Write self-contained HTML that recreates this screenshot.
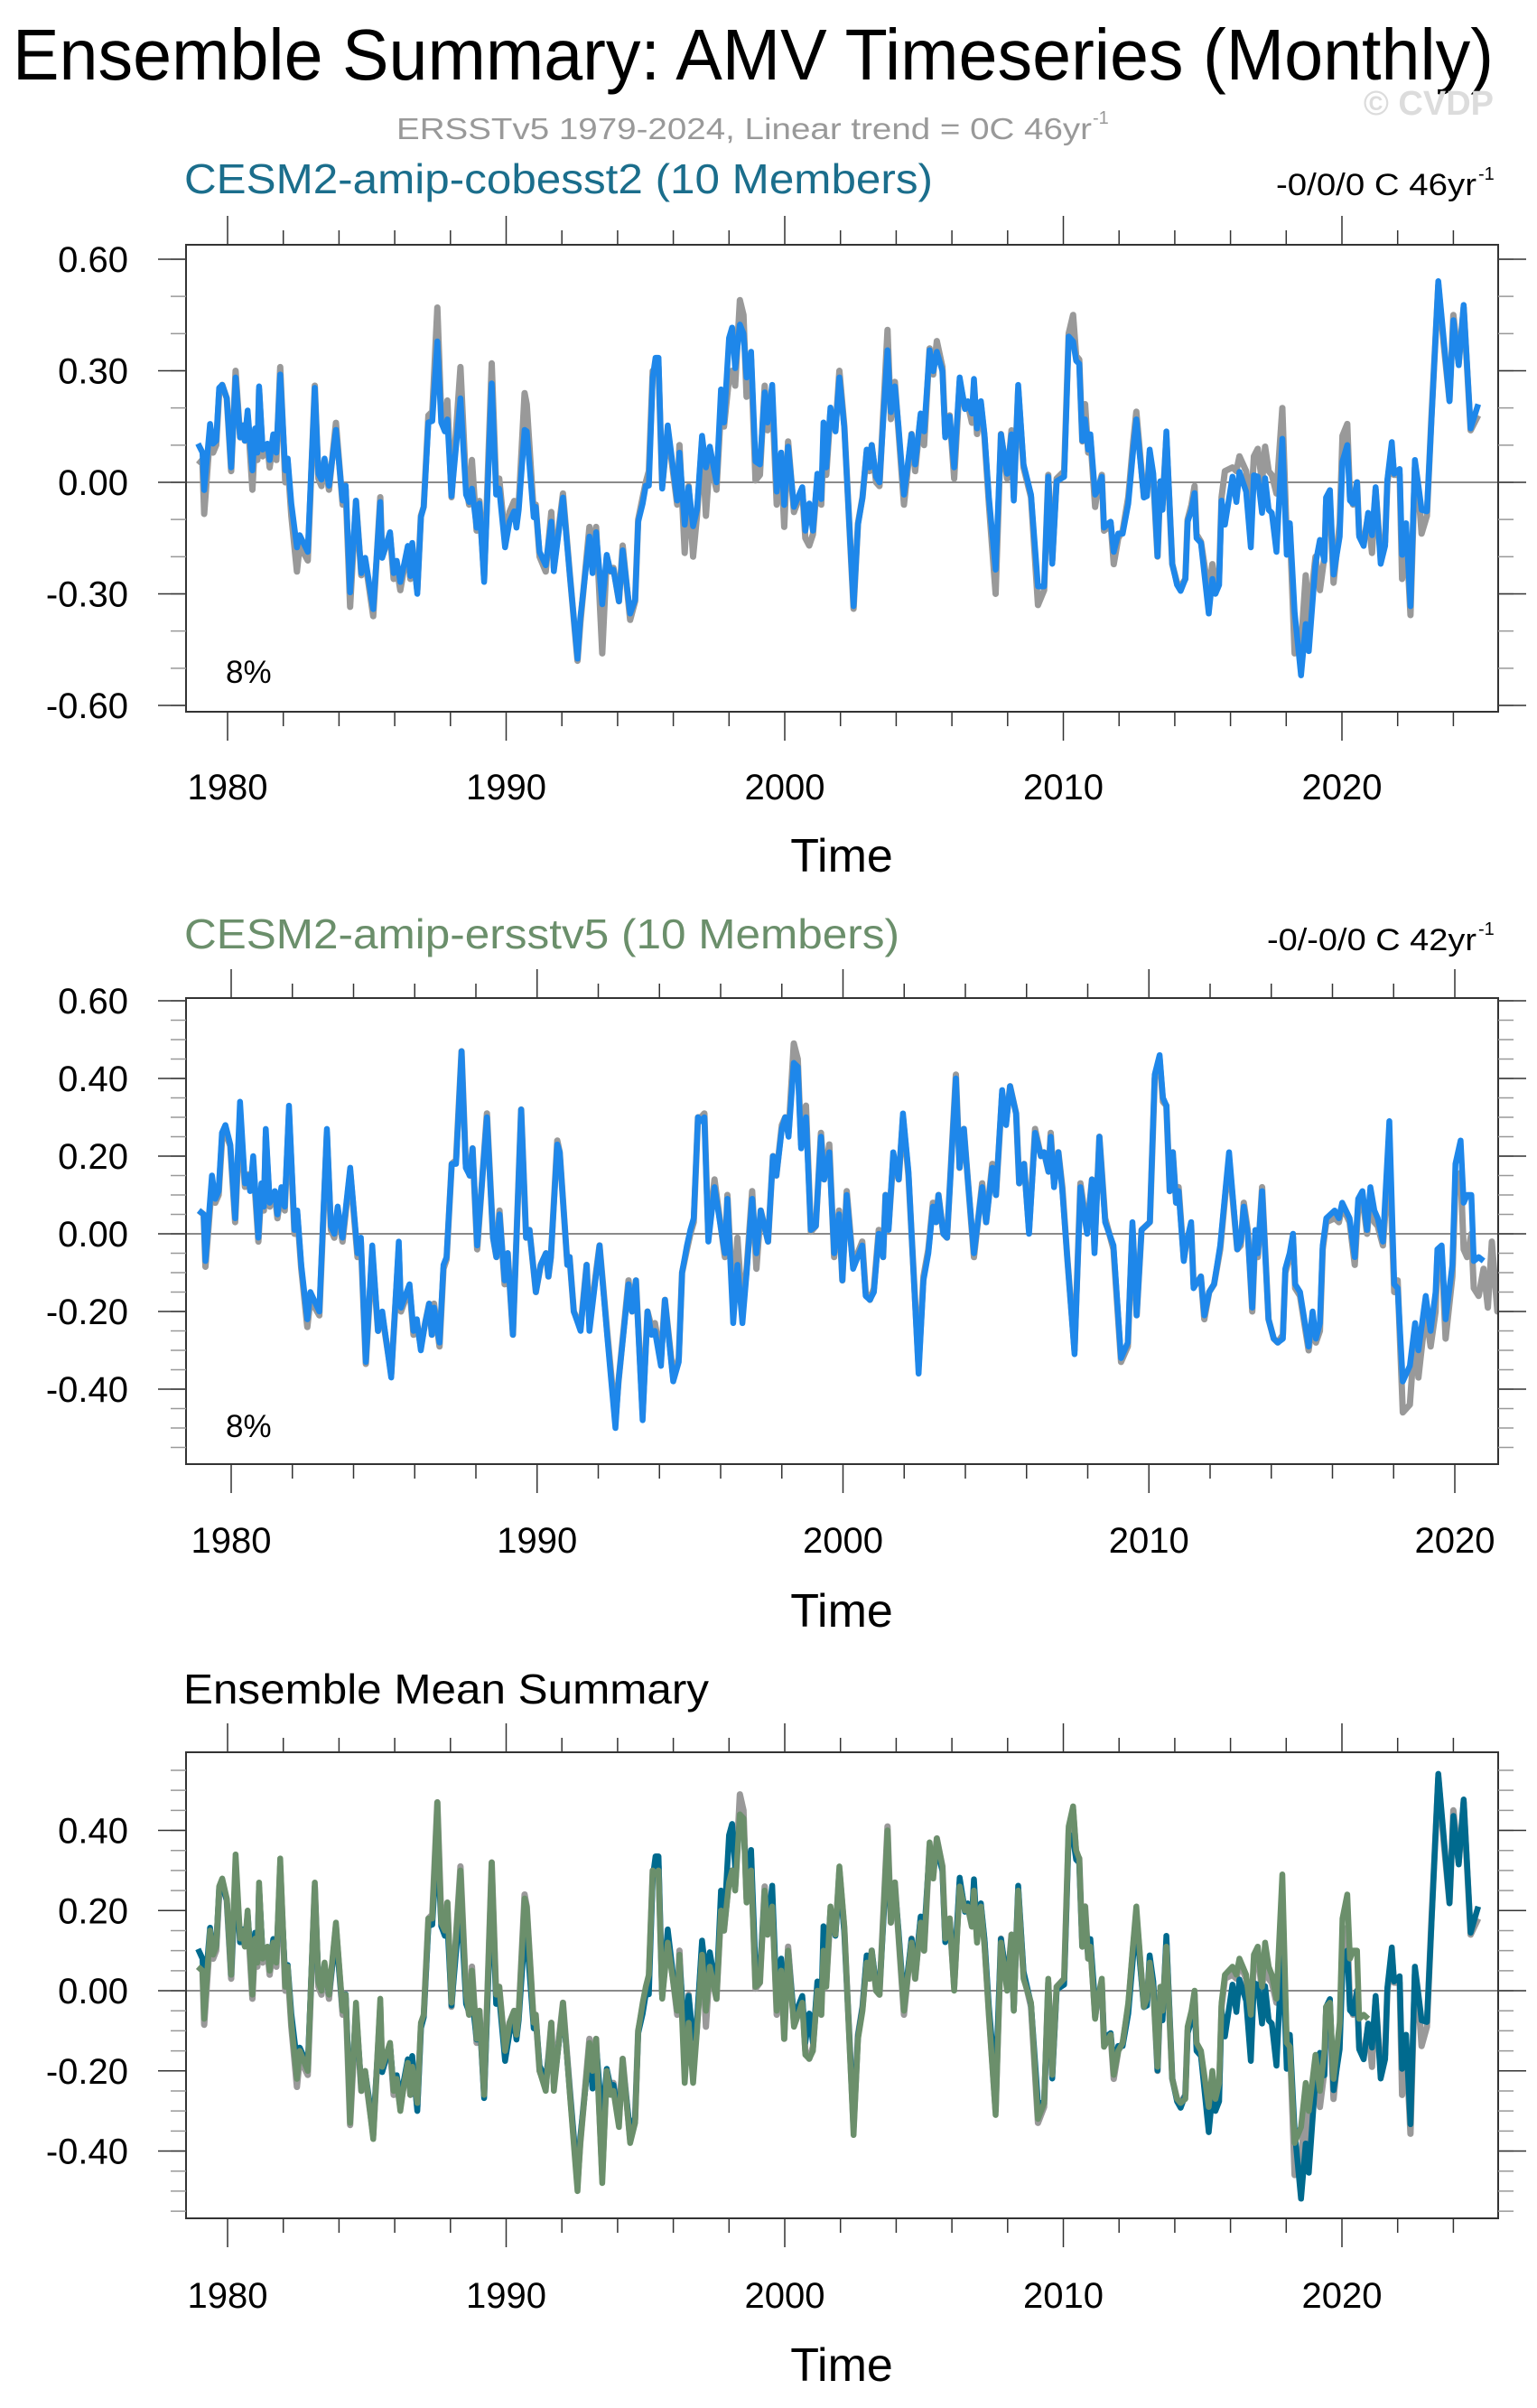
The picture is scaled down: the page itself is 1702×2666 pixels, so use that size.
<!DOCTYPE html>
<html><head><meta charset="utf-8"><title>AMV Timeseries</title>
<style>
html,body{margin:0;padding:0;background:#fff;}
svg{display:block;font-family:"Liberation Sans",sans-serif;}
</style></head>
<body>
<svg id="fig" width="1702" height="2666" viewBox="0 0 1702 2666" xmlns="http://www.w3.org/2000/svg">
<text x="14" y="88" font-size="80" textLength="1640" lengthAdjust="spacingAndGlyphs" fill="#000">Ensemble Summary: AMV Timeseries (Monthly)</text>
<text x="1654" y="127" font-size="38" font-weight="bold" text-anchor="end" fill="#dcdcdc">© CVDP</text>
<text x="439" y="154" font-size="33" textLength="770" lengthAdjust="spacingAndGlyphs" fill="#999">ERSSTv5 1979-2024, Linear trend = 0C 46yr</text>
<text x="1210" y="137" font-size="20" fill="#999">-1</text>

<text x="204" y="214" font-size="46" textLength="829" lengthAdjust="spacingAndGlyphs" fill="#1b6e8c">CESM2-amip-cobesst2 (10 Members)</text>
<text x="1413" y="216" font-size="34" textLength="222" lengthAdjust="spacingAndGlyphs" fill="#000">-0/0/0 C 46yr</text>
<text x="1637" y="199" font-size="20" fill="#000">-1</text>

<text x="204" y="1050" font-size="46" textLength="792" lengthAdjust="spacingAndGlyphs" fill="#6b8f6b">CESM2-amip-ersstv5 (10 Members)</text>
<text x="1403" y="1052" font-size="34" textLength="232" lengthAdjust="spacingAndGlyphs" fill="#000">-0/-0/0 C 42yr</text>
<text x="1637" y="1035" font-size="20" fill="#000">-1</text>

<text x="203" y="1886" font-size="46" textLength="582" lengthAdjust="spacingAndGlyphs" fill="#000">Ensemble Mean Summary</text>
</svg>
<script>
// ---- data (turning points) ----
const years = [
1978.94,1979.10,1979.16,1979.37,1979.48,1979.59,1979.70,1979.81,1979.97,1980.13,
1980.29,1980.45,1980.56,1980.62,1980.72,1980.89,1980.99,1981.07,1981.13,1981.26,
1981.43,1981.51,1981.64,1981.75,1981.89,1982.07,1982.16,1982.29,1982.49,1982.59,
1982.88,1983.13,1983.26,1983.37,1983.48,1983.64,1983.89,1984.13,1984.24,1984.40,
1984.61,1984.80,1984.94,1985.23,1985.48,1985.55,1985.83,1985.96,1986.07,1986.20,
1986.34,1986.47,1986.56,1986.63,1986.81,1986.94,1987.04,1987.21,1987.35,1987.53,
1987.67,1987.80,1987.89,1988.04,1988.36,1988.56,1988.67,1988.77,1988.94,1989.04,
1989.21,1989.48,1989.64,1989.75,1989.96,1990.12,1990.29,1990.37,1990.45,1990.66,
1990.74,1990.99,1991.06,1991.20,1991.42,1991.62,1991.71,1992.04,1992.29,1992.56,
1992.66,1992.99,1993.10,1993.23,1993.45,1993.61,1993.74,1993.85,1994.05,1994.18,
1994.45,1994.63,1994.74,1994.90,1995.01,1995.12,1995.26,1995.36,1995.47,1995.60,
1995.80,1996.14,1996.22,1996.41,1996.55,1996.71,1996.85,1997.03,1997.17,1997.31,
1997.55,1997.71,1997.82,1998.00,1998.11,1998.22,1998.39,1998.52,1998.63,1998.79,
1998.95,1999.11,1999.28,1999.38,1999.55,1999.71,1999.87,1999.98,2000.12,2000.33,
2000.63,2000.74,2000.88,2001.01,2001.17,2001.31,2001.39,2001.49,2001.64,2001.82,
2001.96,2002.14,2002.47,2002.63,2002.79,2002.94,2003.04,2003.12,2003.28,2003.40,
2003.69,2003.81,2003.95,2004.08,2004.28,2004.55,2004.68,2004.88,2005.00,2005.20,
2005.33,2005.46,2005.66,2005.76,2005.92,2006.08,2006.28,2006.47,2006.57,2006.72,
2006.79,2006.90,2007.04,2007.17,2007.33,2007.57,2007.76,2007.98,2008.14,2008.22,
2008.38,2008.57,2008.84,2009.09,2009.31,2009.46,2009.60,2009.76,2010.03,2010.19,
2010.35,2010.46,2010.57,2010.68,2010.78,2010.89,2010.97,2011.14,2011.21,2011.38,
2011.46,2011.62,2011.70,2011.81,2011.97,2012.13,2012.33,2012.51,2012.62,2012.89,
2013.00,2013.10,2013.23,2013.38,2013.48,2013.56,2013.70,2013.91,2014.08,2014.21,
2014.38,2014.46,2014.60,2014.71,2014.78,2014.94,2015.22,2015.35,2015.46,2015.59,
2015.68,2015.80,2016.07,2016.21,2016.32,2016.56,2016.73,2016.84,2016.98,2017.13,
2017.24,2017.37,2017.48,2017.65,2017.86,2018.02,2018.13,2018.30,2018.53,2018.70,
2018.81,2019.05,2019.21,2019.37,2019.43,2019.57,2019.70,2019.92,2020.02,2020.19,
2020.29,2020.40,2020.54,2020.62,2020.78,2020.94,2021.08,2021.21,2021.39,2021.55,
2021.63,2021.79,2021.87,2022.07,2022.16,2022.30,2022.46,2022.62,2022.73,2022.86,
2023.05,2023.21,2023.46,2023.64,2023.86,2024.00,2024.19,2024.37,2024.62,2024.89];

const cobesstVals = [
.104,.080,-.021,.157,.104,.112,.254,.262,.226,.040,
.282,.121,.153,.112,.193,.032,.145,.080,.258,.088,
.104,.060,.129,.080,.290,.032,.064,-.057,-.175,-.142,
-.187,.254,.023,.007,.064,-.009,.141,-.049,-.009,-.296,
-.049,-.244,-.203,-.341,-.053,-.203,-.134,-.244,-.211,-.268,
-.219,-.171,-.252,-.163,-.300,-.094,-.066,.161,.165,.379,
.161,.137,.169,-.037,.226,-.033,-.053,-.017,-.122,-.057,
-.268,.266,-.033,-.017,-.175,-.106,-.078,-.122,-.074,.141,
.137,-.094,-.066,-.187,-.223,-.106,-.239,-.041,-.252,-.474,
-.365,-.146,-.244,-.134,-.328,-.195,-.239,-.235,-.320,-.183,
-.353,-.316,-.106,-.057,-.009,-.009,.282,.335,.335,-.017,
.153,-.049,.080,-.114,-.013,-.118,-.074,.125,.040,.096,
.000,.250,.161,.388,.416,.307,.424,.400,.282,.351,
.056,.048,.242,.161,.262,-.025,.080,-.061,.096,-.066,
-.013,-.130,-.057,-.130,.023,-.045,.161,.040,.201,.137,
.282,.145,-.333,-.114,-.041,.088,.040,.100,.015,.000,
.355,.189,.258,.153,-.033,.129,.048,.185,.137,.355,
.299,.351,.299,.121,.177,.040,.282,.197,.218,.185,
.278,.145,.218,.129,-.041,-.235,.129,.023,.129,-.049,
.262,.048,-.033,-.280,-.280,.015,-.219,.003,.015,.392,
.379,.327,.319,.112,.169,.088,.129,-.033,-.025,.015,
-.122,-.110,-.106,-.187,-.138,-.138,-.057,.088,.169,-.041,
-.037,.088,.023,-.199,.003,-.074,.137,-.219,-.276,-.292,
-.260,-.106,-.074,-.029,-.150,-.163,-.353,-.260,-.300,-.276,
-.049,-.114,.015,-.053,.028,-.025,-.175,.019,.015,-.082,
.011,-.074,-.082,-.187,.117,-.195,-.110,-.349,-.519,-.381,
-.454,-.219,-.155,-.211,-.041,-.021,-.248,-.146,.056,.100,
-.049,-.057,.000,-.146,-.171,-.082,-.142,-.013,-.219,-.171,
.007,.108,.023,.036,-.195,-.110,-.333,.060,.000,-.074,
-.078,.161,.541,.396,.218,.436,.315,.477,.145,.210];

const obsVals = [
.060,.050,-.085,.130,.080,.100,.240,.262,.226,.030,
.300,.121,.153,.112,.180,-.020,.120,.060,.250,.070,
.100,.040,.110,.060,.310,.000,.050,-.090,-.240,-.170,
-.210,.260,.010,-.010,.060,-.020,.160,-.060,-.020,-.335,
-.050,-.250,-.210,-.360,-.040,-.200,-.140,-.260,-.230,-.290,
-.230,-.180,-.260,-.180,-.290,-.090,-.066,.180,.190,.470,
.180,.150,.220,-.040,.310,-.010,-.060,.060,-.130,-.050,
-.260,.320,-.010,.010,-.150,-.080,-.050,-.110,-.060,.240,
.210,-.080,-.060,-.200,-.240,-.080,-.230,-.030,-.250,-.480,
-.380,-.120,-.200,-.120,-.460,-.200,-.240,-.230,-.320,-.170,
-.370,-.320,-.100,-.040,.000,.030,.300,.300,.310,-.010,
.140,-.060,.100,-.190,-.010,-.200,-.090,.110,-.090,.060,
-.020,.200,.150,.280,.300,.260,.490,.450,.230,.330,
.005,.020,.260,.140,.230,-.060,.060,-.120,.110,-.080,
-.020,-.150,-.170,-.140,.010,-.060,.100,.020,.190,.140,
.300,.150,-.340,-.110,-.040,.080,.030,.100,.000,-.010,
.410,.170,.270,.140,-.060,.130,.030,.180,.100,.360,
.290,.380,.310,.130,.180,.010,.270,.200,.210,.160,
.260,.130,.210,.120,-.060,-.300,.130,.010,.140,-.040,
.250,.040,-.040,-.330,-.290,.020,-.210,.010,.030,.400,
.450,.340,.330,.110,.210,.080,.120,-.066,-.030,.020,
-.130,-.120,-.110,-.220,-.150,-.130,-.040,.110,.190,-.040,
-.030,.080,.010,-.200,.000,-.060,.120,-.220,-.270,-.280,
-.260,-.100,-.060,-.010,-.140,-.160,-.300,-.220,-.280,-.250,
-.040,.030,.040,.030,.070,.030,-.080,.070,.090,.000,
.096,.030,.020,-.030,.200,-.150,-.120,-.460,-.440,-.250,
-.370,-.200,-.290,-.200,-.060,-.050,-.270,-.110,.125,.157,
-.040,-.060,.000,-.140,-.160,-.090,-.190,-.020,-.200,-.160,
.000,.090,.020,.020,-.260,-.130,-.357,.040,-.010,-.138,
-.090,.170,.530,.380,.220,.450,.320,.470,.140,.180];

const ersstVals = [
.060,.050,-.070,.150,.090,.110,.260,.280,.230,.040,
.340,.130,.150,.110,.200,-.010,.130,.070,.270,.080,
.110,.050,.120,.070,.330,.010,.060,-.080,-.220,-.150,
-.200,.270,.020,.000,.070,-.010,.170,-.050,-.010,-.330,
-.030,-.250,-.200,-.370,-.020,-.190,-.130,-.250,-.220,-.300,
-.230,-.180,-.260,-.190,-.280,-.080,-.060,.180,.180,.470,
.170,.150,.220,-.030,.300,-.010,-.060,.050,-.120,-.050,
-.260,.320,-.010,.010,-.150,-.080,-.050,-.110,-.060,.230,
.210,-.080,-.060,-.200,-.250,-.080,-.250,-.030,-.260,-.500,
-.380,-.130,-.200,-.120,-.480,-.200,-.260,-.250,-.340,-.170,
-.380,-.330,-.100,-.030,.010,.040,.300,.290,.300,-.020,
.120,-.050,.090,-.230,-.080,-.230,-.100,.090,-.050,.060,
-.020,.200,.150,.270,.300,.250,.440,.430,.220,.300,
.010,.020,.250,.140,.210,-.050,.050,-.120,.100,-.090,
-.030,-.160,-.170,-.150,.000,-.060,.100,.010,.210,.140,
.310,.160,-.360,-.120,-.050,.070,.030,.100,.000,-.010,
.400,.170,.270,.140,-.050,.120,.030,.170,.100,.370,
.280,.380,.310,.130,.180,.000,.260,.200,.210,.160,
.250,.120,.210,.110,-.060,-.310,.120,.000,.140,-.050,
.250,.030,-.030,-.320,-.280,.030,-.210,.010,.030,.410,
.460,.350,.330,.110,.210,.080,.110,-.070,-.030,.030,
-.140,-.120,-.110,-.210,-.150,-.130,-.030,.120,.210,-.040,
-.020,.070,.000,-.190,.010,-.050,.110,-.220,-.270,-.280,
-.270,-.090,-.050,.000,-.130,-.150,-.290,-.200,-.270,-.230,
-.030,.040,.060,.040,.080,.040,-.060,.090,.110,.010,
.120,.060,.040,-.020,.290,-.130,-.140,-.380,-.340,-.230,
-.300,-.160,-.250,-.150,-.040,-.030,-.220,-.080,.180,.240,
.080,.100,.100,-.070,-.060,-.070,null,null,null,null,
null,null,null,null,null,null,null,null,null,null,
null,null,null,null,null,null,null,null,null,null];

const p1TickLabels = ["0.60","0.30","0.00","-0.30","-0.60"];
const p1TickValues = [0.6,0.3,0,-0.3,-0.6];
const p2TickLabels = ["0.60","0.40","0.20","0.00","-0.20","-0.40"];
const p2TickValues = [0.6,0.4,0.2,0,-0.2,-0.4];
const p3TickLabels = ["0.40","0.20","0.00","-0.20","-0.40"];
const p3TickValues = [0.4,0.2,0,-0.2,-0.4];
const yearLabels1 = ["1980","1990","2000","2010","2020"];
const yearValues1 = [1980,1990,2000,2010,2020];

const NS = "http://www.w3.org/2000/svg";
const svg = document.getElementById("fig");
function mk(tag, attrs, parent){
  const e = document.createElementNS(NS, tag);
  for (const k in attrs) e.setAttribute(k, attrs[k]);
  (parent||svg).appendChild(e);
  return e;
}

function panel(cfg){
  const g = mk("g", {});
  
  
  const L=206, R=1659, T=cfg.top, B=cfg.bottom;
  const xs = yr => cfg.x0 + (yr-1980)*cfg.xk;
  const ys = v => cfg.y0 - v*cfg.yk;
  const cp = mk("clipPath", {id: cfg.name+"-clip"}, g);
  mk("rect", {x:L, y:T, width:R-L, height:B-T}, cp);
  const z = mk("line", {x1:L, x2:R, y1:ys(0), y2:ys(0), stroke:"#8a8a8a", "stroke-width":2}, g);
  
  
  cfg.series.forEach(s => {
    let d = "", pen = false;
    for (let i=0;i<years.length;i++){
      const v = s.vals[i];
      if (v===null || v===undefined){ pen=false; continue; }
      d += (pen?"L":"M") + xs(years[i]).toFixed(1) + " " + ys(v).toFixed(1);
      pen = true;
    }
    const p = mk("path", {d:d, fill:"none", stroke:s.color, "stroke-width":s.w, "stroke-linejoin":"round", "clip-path":"url(#"+cfg.name+"-clip)"}, g);
    
    
  });
  const bx = mk("rect", {x:L, y:T, width:R-L, height:B-T, fill:"none", stroke:"#333", "stroke-width":2}, g);
  
  
  for (let yr=1980; yr<=cfg.xmaxTick; yr+=2){
    const major = (yr%10===0);
    const len = major?32:16;
    const x = xs(yr);
    const t1 = mk("line", {x1:x,x2:x,y1:T,y2:T-len,stroke:"#333","stroke-width":1.5}, g);
    
    
    const t2 = mk("line", {x1:x,x2:x,y1:B,y2:B+len,stroke:"#333","stroke-width":1.5}, g);
    
    
  }
  yearLabels1.forEach((lab,i)=>{
    const t = mk("text", {x:xs(yearValues1[i]), y:cfg.yearY, "font-size":40, "text-anchor":"middle", fill:"#000"}, g);
    t.textContent = lab;
    
    
  });
  for (let k=cfg.minorFrom; k<=cfg.minorTo+1e-9; k+=cfg.minorStep){
    const y = ys(k);
    const m1 = mk("line", {x1:L,x2:L-17,y1:y,y2:y,stroke:"#999","stroke-width":1.5}, g);
    
    
    const m2 = mk("line", {x1:R,x2:R+17,y1:y,y2:y,stroke:"#999","stroke-width":1.5}, g);
    
    
  }
  cfg.tickVals.forEach((v,i)=>{
    const y = ys(v);
    const a = mk("line", {x1:L,x2:L-31,y1:y,y2:y,stroke:"#333","stroke-width":1.5}, g);
    
    
    const b = mk("line", {x1:R,x2:R+31,y1:y,y2:y,stroke:"#333","stroke-width":1.5}, g);
    
    
    const t = mk("text", {x:142, y:y+14, "font-size":40, "text-anchor":"end", fill:"#000"}, g);
    t.textContent = cfg.tickLabels[i];
    
    
  });
  const tt = mk("text", {x:932, y:cfg.timeY, "font-size":52, "text-anchor":"middle", fill:"#000"}, g);
  tt.textContent = "Time";
  
  
  if (cfg.pct){
    const pc = mk("text", {x:250, y:cfg.pctY, "font-size":35, fill:"#000"}, g);
    pc.textContent = "8%";
    
    
  }
}

panel({name:"panel-cobesst2", top:271, bottom:788, x0:252, xk:30.85, xmaxTick:2024,
  y0:534, yk:411.7, minorFrom:-0.6, minorTo:0.6, minorStep:0.1,
  tickVals:p1TickValues, tickLabels:p1TickLabels, yearY:885, timeY:965, pct:true, pctY:756,
  series:[{name:"obs-line",vals:obsVals,color:"#999999",w:7},
          {name:"cobesst2-mean-line",vals:cobesstVals,color:"#1e87ea",w:6.5}]});

panel({name:"panel-ersstv5", top:1105, bottom:1621, x0:256, xk:33.875, xmaxTick:2020,
  y0:1366, yk:430, minorFrom:-0.55, minorTo:0.6, minorStep:0.05,
  tickVals:p2TickValues, tickLabels:p2TickLabels, yearY:1719, timeY:1801, pct:true, pctY:1591,
  series:[{name:"obs-line",vals:obsVals,color:"#999999",w:7},
          {name:"ersstv5-mean-line",vals:ersstVals,color:"#1e87ea",w:6.5}]});

panel({name:"panel-ensemble-mean", top:1940, bottom:2456, x0:252, xk:30.85, xmaxTick:2024,
  y0:2204, yk:443.75, minorFrom:-0.55, minorTo:0.55, minorStep:0.05,
  tickVals:p3TickValues, tickLabels:p3TickLabels, yearY:2555, timeY:2636, pct:false,
  series:[{name:"obs-line",vals:obsVals,color:"#999999",w:7},
          {name:"cobesst2-mean-line",vals:cobesstVals,color:"#006a8e",w:6.5},
          {name:"ersstv5-mean-line",vals:ersstVals,color:"#6b8f6b",w:6.5}]});
</script>
</body></html>
